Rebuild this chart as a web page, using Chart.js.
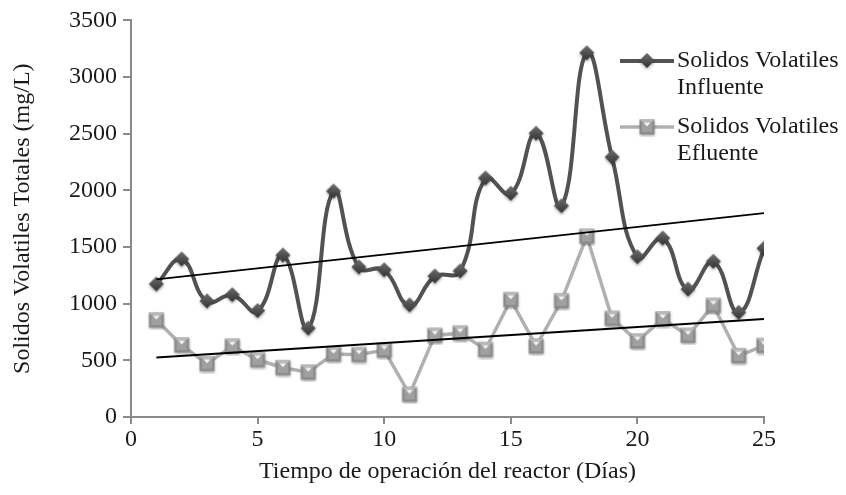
<!DOCTYPE html>
<html lang="es">
<head>
    <meta charset="UTF-8">
    <title>Solidos Volatiles</title>
    <script src="https://cdn.jsdelivr.net/npm/chart.js"></script>
    <style>
        html, body { margin: 0; padding: 0; background: #fff; }
        #wrap { width: 846px; height: 495px; position: relative; }
    </style>
</head>
<body>
<div id="wrap"><canvas id="svChart" width="846" height="495"></canvas></div>

<script>
    // dias de operacion
    const dias = [1, 2, 3, 4, 5, 6, 7, 8, 9, 10, 11, 12, 13, 14, 15, 16, 17, 18, 19, 20, 21, 22, 23, 24, 25];
    const influente = [1170, 1390, 1020, 1075, 935, 1425, 780, 1990, 1320, 1295, 985, 1240, 1285,
                       2105, 1970, 2500, 1860, 3210, 2290, 1410, 1575, 1125, 1370, 920, 1485];
    const efluente = [855, 635, 470, 625, 505, 435, 395, 555, 550, 590, 200, 720, 740,
                      595, 1035, 625, 1025, 1595, 870, 670, 865, 720, 985, 540, 630];
    // lineas de tendencia (extremos)
    const trendX = [1, 25];
    const trendInfluente = [1215, 1800];
    const trendEfluente = [525, 865];
    const xTicks = [0, 5, 10, 15, 20, 25];
    const yTicks = [0, 500, 1000, 1500, 2000, 2500, 3000, 3500];

    const FONT = '"Liberation Serif", "Times New Roman", serif';
    const FSIZE = 24;

    function toPoints(xs, ys) {
        return xs.map((x, i) => ({ x: x, y: ys[i] }));
    }

    // marcador rombo oscuro
    function diamondMarker() {
        const c = document.createElement('canvas');
        c.width = 20; c.height = 20;
        const g = c.getContext('2d');
        g.shadowColor = 'rgba(0,0,0,0.35)';
        g.shadowBlur = 3;
        g.shadowOffsetY = 1.5;
        const grad = g.createLinearGradient(0, 2, 0, 18);
        grad.addColorStop(0, '#6e6e6e');
        grad.addColorStop(1, '#2e2e2e');
        g.fillStyle = grad;
        g.beginPath();
        g.moveTo(10, 2); g.lineTo(17.5, 9.5); g.lineTo(10, 17); g.lineTo(2.5, 9.5);
        g.closePath();
        g.fill();
        return c;
    }

    // marcador cuadrado gris con bisel
    function squareMarker() {
        const c = document.createElement('canvas');
        c.width = 20; c.height = 20;
        const g = c.getContext('2d');
        g.shadowColor = 'rgba(0,0,0,0.35)';
        g.shadowBlur = 3;
        g.shadowOffsetY = 1.5;
        g.fillStyle = '#8c8c8c';
        g.fillRect(2.5, 2.5, 15, 15);
        g.shadowColor = 'transparent';
        g.fillStyle = '#b8b8b8';
        g.beginPath();
        g.moveTo(2.5, 2.5); g.lineTo(17.5, 2.5); g.lineTo(10, 10); g.closePath();
        g.fill();
        g.fillStyle = '#a0a0a0';
        g.fillRect(5, 5, 10, 10);
        g.fillStyle = '#f4f4f4';
        g.beginPath();
        g.moveTo(6.5, 5.5); g.lineTo(13.5, 5.5); g.lineTo(10, 9.5); g.closePath();
        g.fill();
        return c;
    }

    const mkInf = diamondMarker();
    const mkEf = squareMarker();

    const legendItems = [
        { lines: ['Solidos Volatiles', 'Influente'], color: '#525252', width: 4, marker: mkInf, y: 61 },
        { lines: ['Solidos Volatiles', 'Efluente'], color: '#b0b0b0', width: 3.5, marker: mkEf, y: 127 }
    ];

    const legendPlugin = {
        id: 'legendaLateral',
        afterDraw(chart) {
            const ctx = chart.ctx;
            ctx.save();
            legendItems.forEach(it => {
                ctx.strokeStyle = it.color;
                ctx.lineWidth = it.width;
                ctx.beginPath();
                ctx.moveTo(620, it.y);
                ctx.lineTo(674, it.y);
                ctx.stroke();
                ctx.drawImage(it.marker, 647 - 10, it.y - 10);
                ctx.fillStyle = '#1a1a1a';
                ctx.font = FSIZE + 'px ' + FONT;
                ctx.textBaseline = 'middle';
                ctx.textAlign = 'left';
                it.lines.forEach((t, i) => ctx.fillText(t, 677, it.y + i * 27));
            });
            ctx.restore();
        }
    };

    const ctx = document.getElementById('svChart').getContext('2d');
    const svChart = new Chart(ctx, {
        type: 'line',
        data: {
            datasets: [
                {
                    label: 'Solidos Volatiles Influente',
                    data: toPoints(dias, influente),
                    borderColor: '#525252',
                    borderWidth: 4,
                    tension: 0.45,
                    pointStyle: mkInf,
                    order: 3
                },
                {
                    label: 'Solidos Volatiles Efluente',
                    data: toPoints(dias, efluente),
                    borderColor: '#b0b0b0',
                    borderWidth: 3.5,
                    tension: 0,
                    pointStyle: mkEf,
                    order: 4
                },
                {
                    label: 'Tendencia Influente',
                    data: toPoints(trendX, trendInfluente),
                    borderColor: '#000',
                    borderWidth: 1.8,
                    pointRadius: 0,
                    order: 1
                },
                {
                    label: 'Tendencia Efluente',
                    data: toPoints(trendX, trendEfluente),
                    borderColor: '#000',
                    borderWidth: 1.8,
                    pointRadius: 0,
                    order: 2
                }
            ]
        },
        options: {
            responsive: false,
            animation: false,
            layout: { padding: { left: 0, top: 20, right: 82, bottom: 0 } },
            plugins: {
                legend: { display: false },
                tooltip: { enabled: false }
            },
            scales: {
                x: {
                    type: 'linear',
                    min: 0, max: 25,
                    afterBuildTicks: s => { s.ticks = xTicks.map(v => ({ value: v })); },
                    afterFit: s => { s.height = 78; },
                    grid: { display: true, drawOnChartArea: false, drawTicks: true, tickLength: 7, color: '#8a8a8a', lineWidth: 2 },
                    border: { color: '#8a8a8a', width: 2 },
                    ticks: { color: '#1a1a1a', font: { family: FONT, size: FSIZE }, padding: 1, maxRotation: 0,
                             callback: v => String(v) },
                    title: { display: true, text: 'Tiempo de operación del reactor (Días)', color: '#1a1a1a',
                             font: { family: FONT, size: FSIZE }, padding: { top: 2, bottom: 9 } }
                },
                y: {
                    min: 0, max: 3500,
                    afterBuildTicks: s => { s.ticks = yTicks.map(v => ({ value: v })); },
                    afterFit: s => { s.width = 131; },
                    grid: { display: true, drawOnChartArea: false, drawTicks: true, tickLength: 8, color: '#8a8a8a', lineWidth: 2 },
                    border: { color: '#8a8a8a', width: 2 },
                    ticks: { color: '#1a1a1a', font: { family: FONT, size: FSIZE }, padding: 6,
                             callback: v => String(v) },
                    title: { display: true, text: 'Solidos Volatiles Totales (mg/L)', color: '#1a1a1a',
                             font: { family: FONT, size: FSIZE }, padding: { top: 8, bottom: 4 } }
                }
            }
        },
        plugins: [legendPlugin]
    });
</script>
</body>
</html>
